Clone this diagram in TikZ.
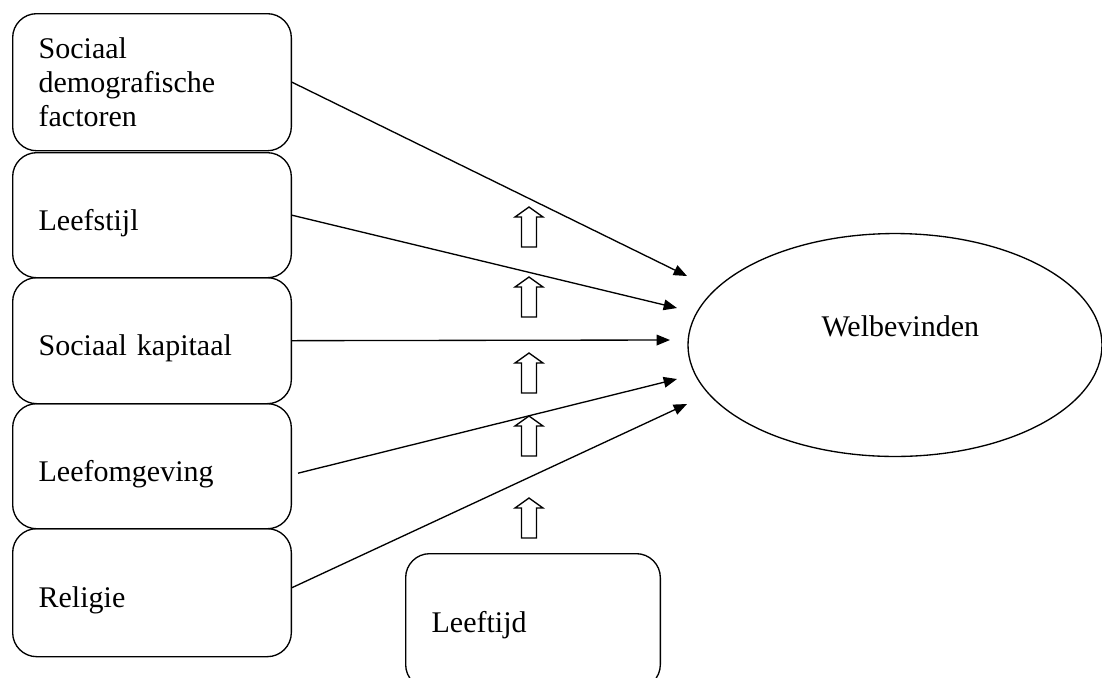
\documentclass[tikz,border=0pt]{standalone}
\usepackage{fontspec}
\setmainfont{Liberation Serif}
\usetikzlibrary{arrows.meta,calc,shapes.geometric}
\tikzset{
  factor/.style={draw, line width=0.5pt, rounded corners=9pt, anchor=north west,
    text width=85pt, inner xsep=9.75pt, align=left,
    font=\fontsize{11.25}{12.9}\selectfont},
  oneline/.style={text height=11.2pt, text depth=0pt},
  effect/.style={-{Triangle[length=5pt,width=4pt]}, line width=0.5pt},
}
\begin{document}
\begin{tikzpicture}[x=0.375pt,y=-0.375pt]
    \useasboundingbox (0,0) rectangle (1102,677);
    \node[factor, minimum height=51.4pt] (sdf) at (12,13) {Sociaal\\demografische\\factoren};
    \node[factor, oneline, minimum height=46.9pt] (lfs) at (12,152) {Leefstijl};
    \node[factor, oneline, minimum height=47.25pt] (skap) at (12,277) {Sociaal kapitaal};
    \node[factor, oneline, minimum height=46.9pt] (lomg) at (12,403) {Leefomgeving};
    \node[factor, oneline, minimum height=48pt] (rel) at (12,528) {Religie};
    \node[factor, text width=76pt, text height=8.6pt, text depth=0pt, minimum height=50.6pt] (age) at (405,553) {Leeftijd};
    \node[draw, line width=0.5pt, ellipse, inner sep=0pt, minimum width=155.25pt, minimum height=83.6pt,
      label={[xshift=2pt,yshift=7.1pt,font=\fontsize{11.25}{12.9}\selectfont]center:Welbevinden}] (wel) at (895,345) {};
    % arrow ends in front of the ellipse
    \coordinate (tsdf) at (687,276);
    \coordinate (tlfs) at (677,308);
    \coordinate (tskap) at (670,340);
    \coordinate (tlomg) at (677,379);
    \coordinate (trel) at (687,404);
    \draw[effect] (sdf.east) -- (tsdf);
    \draw[effect] (lfs.east) -- (tlfs);
    \draw[effect] (skap.east) -- (tskap);
    \draw[effect] ($(lomg.east)+(6,7)$) -- (tlomg);
    \draw[effect] ($(rel.east)+(0,-5)$) -- (trel);
    % open arrows for the age effect
    \foreach \ty in {207,277,353,416,498}
      \draw[line width=0.5pt, fill=white] (521.5,\ty+40) -- (521.5,\ty+10) -- (515,\ty+10) -- (529,\ty)
        -- (543,\ty+10) -- (536.5,\ty+10) -- (536.5,\ty+40) -- cycle;
\end{tikzpicture}
\end{document}
